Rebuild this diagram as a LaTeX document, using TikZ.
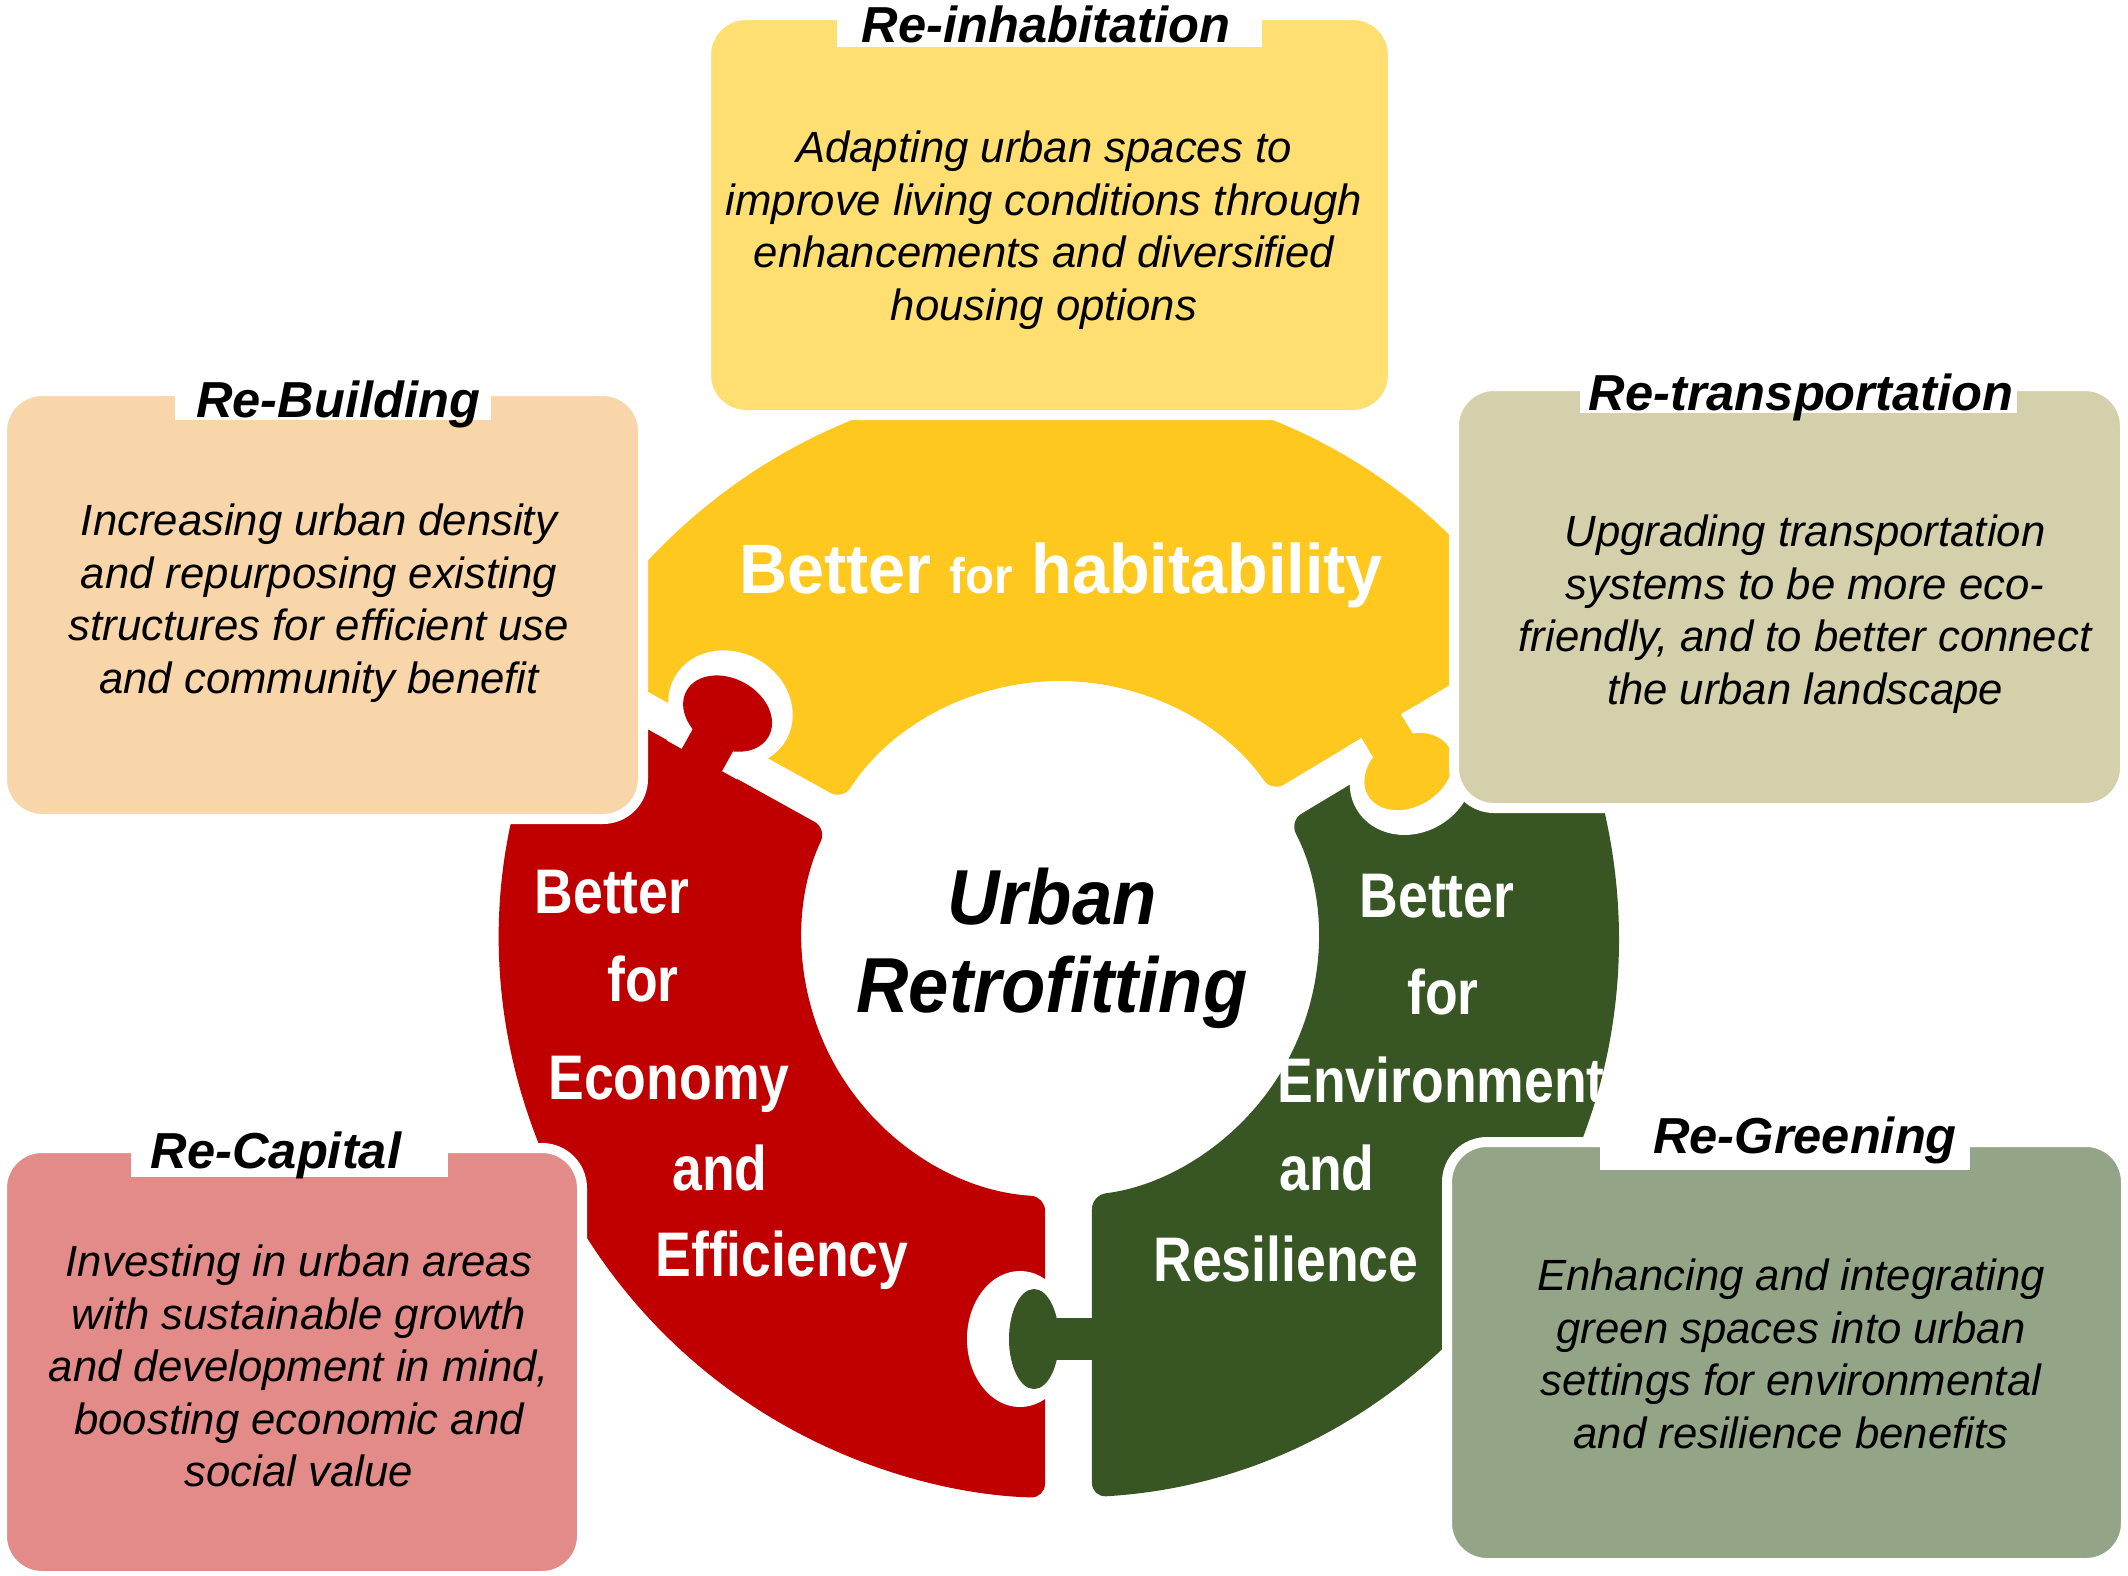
\documentclass[tikz,border=0pt]{standalone}
\usepackage{fontspec}
\setmainfont{Liberation Sans}
\newfontfamily\ringfont[FakeStretch=0.85]{Liberation Sans}
\newfontfamily\habfont[FakeStretch=0.95]{Liberation Sans}
\newfontfamily\midfont[FakeStretch=0.93]{Liberation Sans}
\definecolor{ringY}{RGB}{254,200,30}
\definecolor{ringR}{RGB}{192,0,0}
\definecolor{ringG}{RGB}{56,86,35}
\definecolor{bxY}{RGB}{255,223,113}
\definecolor{bxP}{RGB}{248,214,169}
\definecolor{bxK}{RGB}{212,208,172}
\definecolor{bxR}{RGB}{226,139,137}
\definecolor{bxG}{RGB}{148,165,135}
\tikzset{
  boxshape/.style={draw=white, line width=10, rounded corners=40, inner sep=0},
  piece/.style={rounded corners=14},
  titletxt/.style={font=\bfseries\itshape\fontsize{50.6}{56}\selectfont, inner sep=0, anchor=base},
  bodytxt/.style={font=\itshape\fontsize{43.7}{52.5}\selectfont, align=center, inner sep=0},
  ringtxt/.style={text=white, font=\ringfont\bfseries\fontsize{63}{70}\selectfont, inner sep=0, anchor=base},
  habtxt/.style={text=white, font=\habfont\bfseries\fontsize{70}{80}\selectfont, inner sep=0, anchor=base},
  midtxt/.style={font=\midfont\bfseries\itshape\fontsize{78}{88}\selectfont, inner sep=0, anchor=base},
}
\begin{document}
\begin{tikzpicture}[x=1pt,y=1pt]
\useasboundingbox (0,0) rectangle (2128,-1575);
\fill[white] (0,0) rectangle (2128,-1575);
\coordinate (C) at (1060,-939);
% ring pieces
\fill[ringY, piece] ([shift={(32.74:559)}]C) arc[start angle=32.74,end angle=149.31,radius=559]
  -- ([shift={(147.33:258)}]C) arc[start angle=147.33,end angle=34.78,radius=258] -- cycle;
\fill[ringR, piece] ([shift={(152.69:559)}]C) arc[start angle=152.69,end angle=268.46,radius=559]
  -- ([shift={(266.67:258)}]C) arc[start angle=266.67,end angle=154.67,radius=258] -- cycle;
\fill[ringG, piece] ([shift={(273.28:559)}]C) arc[start angle=273.28,end angle=389.26,radius=559]
  -- ([shift={(27.22:258)}]C) arc[start angle=387.22,end angle=277.12,radius=258] -- cycle;
\fill[white] (1413,-710) -- (1452,-687) -- (1452,-730) -- (1422,-730) -- cycle;
% knob of the red piece into the yellow one
\begin{scope}[shift={(710.15,-745.07)}, rotate=61]
  \fill[white] (42,0) ellipse[x radius=56, y radius=64];
  \fill[white] (-17,-40) rectangle (36,40);
  \fill[ringR] (36,0) ellipse[x radius=35, y radius=47];
  \fill[ringR] (-25,-23) rectangle (30,23);
\end{scope}
% knob of the yellow piece into the green one
\begin{scope}[shift={(1390.0,-740.7)}, rotate=-59]
  \fill[white] (42,0) ellipse[x radius=56, y radius=64];
  \fill[white] (-17,-40) rectangle (36,40);
  \fill[ringY] (36,0) ellipse[x radius=35, y radius=47];
  \fill[ringY] (-25,-23) rectangle (30,23);
\end{scope}
% knob of the green piece into the red one
\begin{scope}[shift={(1068,-1339)}, rotate=180]
  \fill[white] (48,0) ellipse[x radius=53, y radius=68];
  \fill[ringG] (34,0) ellipse[x radius=25, y radius=50];
  \fill[ringG] (-30,-21) rectangle (30,21);
\end{scope}
% ring texts
\node[habtxt] (hab) at (1061,-593) {Better {\fontsize{50}{50}\selectfont for} habitability};
\node[ringtxt] (e1) at (612,-913) {Better};
\node[ringtxt] (e2) at (643,-1001) {for};
\node[ringtxt] (e3) at (669,-1099) {Economy};
\node[ringtxt] (e4) at (720,-1190) {and};
\node[ringtxt] (e5) at (782,-1276) {Efficiency};
\node[ringtxt] (g1) at (1437,-917) {Better};
\node[ringtxt] (g2) at (1443,-1014) {for};
\node[ringtxt] (g3) at (1441,-1102) {Environment};
\node[ringtxt] (g4) at (1327,-1190) {and};
\node[ringtxt] (g5) at (1286,-1281) {Resilience};
\node[midtxt] (u1) at (1052,-924) {Urban};
\node[midtxt] (u2) at (1052,-1012) {Retrofitting};
% boxes
\node[boxshape, fill=bxY, minimum width=687, minimum height=400] (inhab) at (1049.5,-215) {};
\node[boxshape, fill=bxP, minimum width=641, minimum height=428] (rebuild) at (322.5,-605) {};
\node[boxshape, fill=bxK, minimum width=671, minimum height=422] (retrans) at (1789.5,-597) {};
\node[boxshape, fill=bxR, minimum width=580, minimum height=428] (recap) at (292,-1362) {};
\node[boxshape, fill=bxG, minimum width=679, minimum height=421] (regreen) at (1786.5,-1352.5) {};
% title tabs
\fill[white] (837,5) rectangle (1262,-47);
\fill[white] (175,-370) rectangle (491,-420);
\fill[white] (1580,-365) rectangle (2017,-413);
\fill[white] (131,-1120) rectangle (448,-1177);
\fill[white] (1600,-1110) rectangle (1970,-1170);
% titles
\node[titletxt] (t1) at (1046,-42) {Re-inhabitation};
\node[titletxt] (t2) at (338,-417) {Re-Building};
\node[titletxt] (t3) at (1801,-410) {Re-transportation};
\node[titletxt] (t4) at (276,-1168) {Re-Capital};
\node[titletxt] (t5) at (1805,-1153) {Re-Greening};
% bodies
\node[bodytxt] (b1) at (1044,-230) {Adapting urban spaces to\\improve living conditions through\\enhancements and diversified\\housing options};
\node[bodytxt] (b2) at (319,-603) {Increasing urban density\\and repurposing existing\\structures for efficient use\\and community benefit};
\node[bodytxt] (b3) at (1805,-614) {Upgrading transportation\\systems to be more eco-\\friendly, and to better connect\\the urban landscape};
\node[bodytxt] (b4) at (299,-1366) {Investing in urban areas\\with sustainable growth\\and development in mind,\\boosting economic and\\social value};
\node[bodytxt] (b5) at (1791,-1354) {Enhancing and integrating\\green spaces into urban\\settings for environmental\\and resilience benefits};
\end{tikzpicture}
\end{document}
